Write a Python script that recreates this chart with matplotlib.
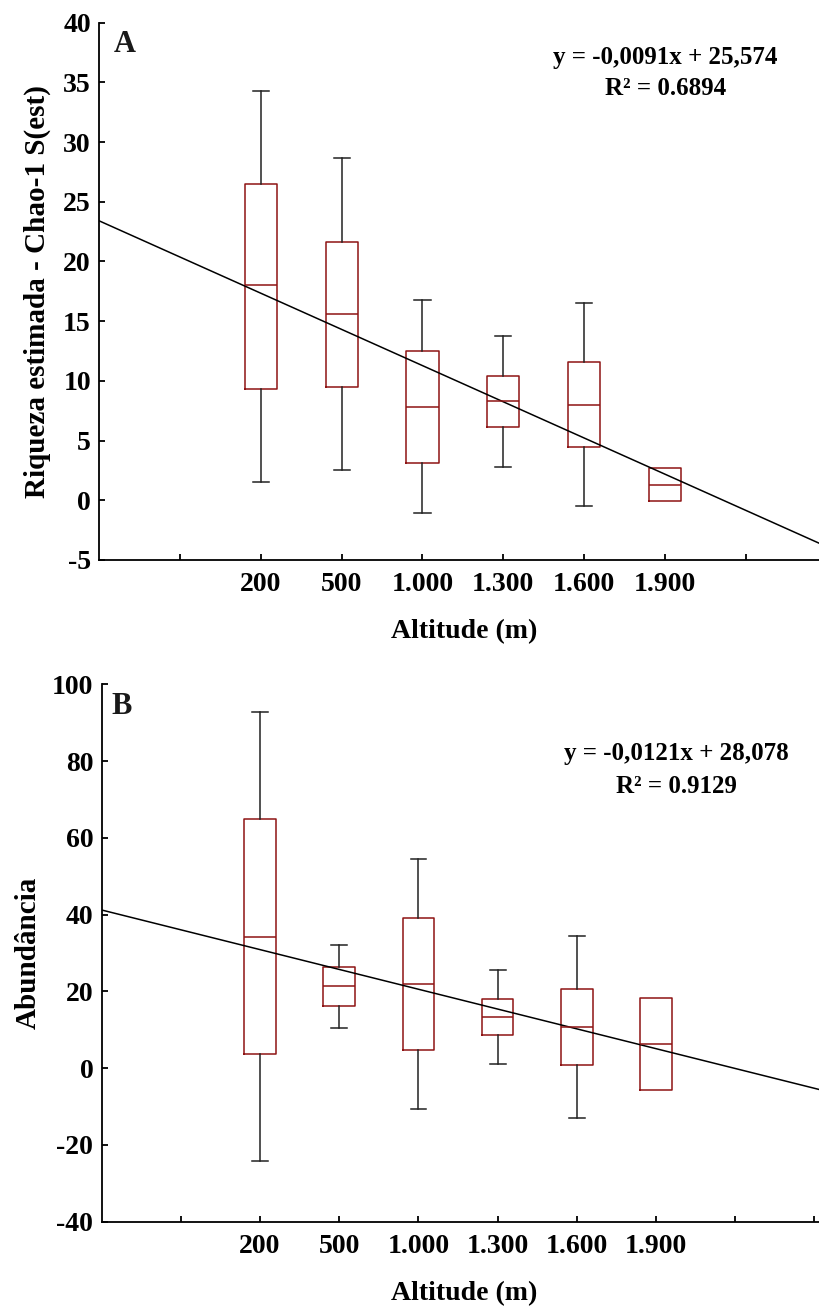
import matplotlib
matplotlib.use("Agg")
import matplotlib.pyplot as plt

plt.rcParams['font.family'] = ['Liberation Serif', 'DejaVu Serif']
plt.rcParams['font.weight'] = 'bold'

# ---- data ----
altitudes = ['200', '500', '1.000', '1.300', '1.600', '1.900']
positions = [2, 3, 4, 5, 6, 7]

riq_whislo = [1.5, 2.5, -1.1, 2.8, -0.5, -0.1]
riq_q1 = [9.3, 9.5, 3.1, 6.1, 4.5, -0.1]
riq_med = [18.0, 15.6, 7.8, 8.3, 8.0, 1.3]
riq_q3 = [26.5, 21.65, 12.5, 10.4, 11.6, 2.7]
riq_whishi = [34.3, 28.7, 16.8, 13.8, 16.5, 2.7]
riq_trend = (23.4, -3.03)          # value at left axis edge, change per category step
riq_eq = 'y = -0,0091x + 25,574'
riq_r2 = 'R² = 0.6894'

abu_whislo = [-24.3, 10.4, -10.7, 1.0, -13.1, -5.8]
abu_q1 = [3.6, 16.3, 4.8, 8.6, 0.8, -5.8]
abu_med = [34.2, 21.3, 21.9, 13.3, 10.7, 6.3]
abu_q3 = [64.9, 26.4, 39.0, 17.9, 20.6, 18.2]
abu_whishi = [92.7, 32.1, 54.5, 25.6, 34.5, 18.2]
abu_trend = (41.2, -5.16)
abu_eq = 'y = -0,0121x + 28,078'
abu_r2 = 'R² = 0.9129'

BOX_COLOR = '#8e1414'

fig = plt.figure(figsize=(8.19, 13.08), dpi=100)

W, H = 819.0, 1308.0


def make_axes(left_px, top_px, bottom_px):
    return fig.add_axes([left_px / W, 1 - bottom_px / H,
                         (W - left_px) / W, (bottom_px - top_px) / H])


def panel(ax, whislo, q1, med, q3, whishi, trend, xmax, ylim, yticks,
          nticks, ylabel, letter, eq, r2, eqx, eqy, r2y, ylab_x, letter_xy):
    stats = []
    for lo, a, m, b, hi in zip(whislo, q1, med, q3, whishi):
        stats.append(dict(whislo=lo, q1=a, med=m, q3=b, whishi=hi, fliers=[]))
    art = ax.bxp(stats, positions=positions, widths=0.4, capwidths=0.2,
                 showfliers=False, manage_ticks=False,
                 boxprops=dict(color=BOX_COLOR, linewidth=1.1),
                 medianprops=dict(color=BOX_COLOR, linewidth=1.1),
                 whiskerprops=dict(color='#222222', linewidth=1.1),
                 capprops=dict(color='#222222', linewidth=1.1))
    for i, (lo, a, b, hi) in enumerate(zip(whislo, q1, q3, whishi)):
        if lo >= a and hi <= b:
            for k in (2 * i, 2 * i + 1):
                art['whiskers'][k].set_visible(False)
                art['caps'][k].set_visible(False)
    ax.axline((0, trend[0]), slope=trend[1], color='black', linewidth=1.1)

    ax.set_xlim(0, xmax)
    ax.set_ylim(*ylim)
    ax.set_yticks(yticks)
    ax.set_yticklabels([str(t) for t in yticks])
    ticks = list(range(1, nticks + 1))
    labels = [altitudes[positions.index(t)] if t in positions else '' for t in ticks]
    ax.set_xticks(ticks)
    ax.set_xticklabels(labels)
    ax.tick_params(direction='in', length=4, width=1.3, labelsize=20)
    ax.tick_params(axis='x', pad=9)
    ax.tick_params(axis='y', pad=6)
    for s in ('top', 'right'):
        ax.spines[s].set_visible(False)
    for s in ('left', 'bottom'):
        ax.spines[s].set_linewidth(1.3)

    ax.set_xlabel('Altitude (m)', fontsize=20, fontweight='bold')
    ax.xaxis.label.set_va('center')
    ax.set_ylabel(ylabel, fontsize=21, fontweight='bold')
    ax.yaxis.label.set_va('center')
    ax.yaxis.set_label_coords(ylab_x, 0.5)

    ax.text(letter_xy[0], letter_xy[1], letter, transform=ax.transAxes,
            fontsize=22, fontweight='bold', ha='center', va='center', alpha=0.9)
    ax.text(eqx, eqy, eq, transform=ax.transAxes, fontsize=18,
            fontweight='bold', ha='center', va='center')
    ax.text(eqx, r2y, r2, transform=ax.transAxes, fontsize=18,
            fontweight='bold', ha='center', va='center')
    return ax


axA = make_axes(99.3, 22.7, 560.0)
panel(axA, riq_whislo, riq_q1, riq_med, riq_q3, riq_whishi, riq_trend,
      (W - 99.3) / 80.8, (-5, 40), list(range(-5, 41, 5)), 8,
      'Riqueza estimada - Chao-1 S(est)', 'A', riq_eq, riq_r2,
      0.787, 0.936, 0.877, -0.0866, (0.036, 0.960))
axA.xaxis.set_label_coords(0.507, -0.134)

axB = make_axes(101.7, 684.3, 1221.7)
panel(axB, abu_whislo, abu_q1, abu_med, abu_q3, abu_whishi, abu_trend,
      (W - 101.7) / 79.18, (-40, 100), list(range(-40, 101, 20)), 9,
      'Abundância', 'B', abu_eq, abu_r2,
      0.801, 0.872, 0.810, -0.103, (0.028, 0.958))
axB.xaxis.set_label_coords(0.505, -0.133)

fig.savefig('out.png', dpi=100)
